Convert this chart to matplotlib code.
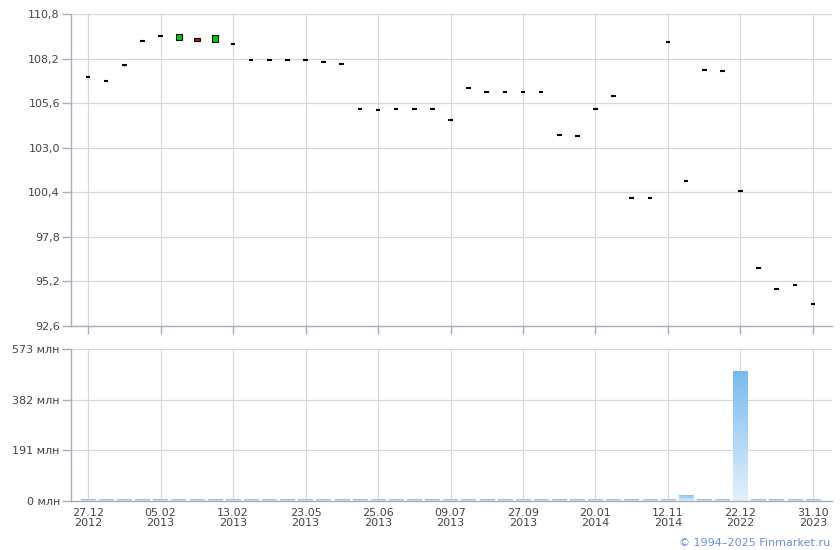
import numpy as np
import matplotlib.pyplot as plt
from matplotlib.colors import LinearSegmentedColormap

# candle data (index-based x axis, 41 trading points)
opens = [107.12, 106.89, 107.82, 109.22, 109.51, 109.26, 109.42, 109.18, 109.05, 108.11,
         108.11, 108.11, 108.11, 108.00, 107.88, 105.25, 105.19, 105.25, 105.25, 105.25,
         104.61, 106.48, 106.24, 106.24, 106.24, 106.24, 103.73, 103.67, 105.25, 106.01,
         100.05, 100.05, 109.16, 101.04, 107.53, 107.47, 100.46, 95.96, 94.73, 94.97, 93.86]
closes = [107.12, 106.89, 107.82, 109.22, 109.51, 109.65, 109.20, 109.59, 109.05, 108.11,
          108.11, 108.11, 108.11, 108.00, 107.88, 105.25, 105.19, 105.25, 105.25, 105.25,
          104.61, 106.48, 106.24, 106.24, 106.24, 106.24, 103.73, 103.67, 105.25, 106.01,
          100.05, 100.05, 109.16, 101.04, 107.53, 107.47, 100.46, 95.96, 94.73, 94.97, 93.86]
lows = list(closes)
lows[2] = 107.74
highs = list(closes)

# volume, mln
volumes = [6, 6, 6, 6, 6, 6, 6, 6, 6, 6,
           6, 6, 6, 6, 6, 6, 6, 6, 6, 6,
           6, 6, 6, 6, 6, 6, 6, 6, 6, 6,
           6, 6, 6, 23, 6, 6, 491, 6, 6, 6, 6]

tick_labels = ['27.12\n2012', '05.02\n2013', '13.02\n2013', '23.05\n2013', '25.06\n2013',
               '09.07\n2013', '27.09\n2013', '20.01\n2014', '12.11\n2014', '22.12\n2022',
               '31.10\n2023']
price_ticks = [92.6, 95.2, 97.8, 100.4, 103.0, 105.6, 108.2, 110.8]
vol_ticks = [0, 191, 382, 573]

grid_c = '#d3d8dd'
spine_c = '#a9adbb'
text_c = '#444444'

fig = plt.figure(figsize=(8.4, 5.5), dpi=100)
ax1 = fig.add_axes([0.0845, 0.4073, 0.906, 0.5673])
ax2 = fig.add_axes([0.0845, 0.0891, 0.906, 0.2764])

x = np.arange(len(closes))
tick_pos = x[::4]

for ax in (ax1, ax2):
    ax.set_axisbelow(True)
    ax.grid(True, color=grid_c, lw=0.9)
    for s in ['top', 'right']:
        ax.spines[s].set_visible(False)
    for s in ['left', 'bottom']:
        ax.spines[s].set_color(spine_c)
        ax.spines[s].set_linewidth(1.0)
    ax.set_xticks(tick_pos)
    ax.tick_params(colors=spine_c, labelcolor=text_c, labelsize=8, length=6.5, width=1, pad=1.5)

# price candles
o = np.array(opens)
c = np.array(closes)
ax1.vlines(x, lows, highs, color='black', lw=1)
body = np.abs(c - o) > 0.01
cols = np.where(c > o, '#00cc00', '#e00000')
ax1.bar(x[body], np.abs(c - o)[body], bottom=np.minimum(o, c)[body], width=0.34,
        color=cols[body], edgecolor='black', linewidth=0.8)
ax1.hlines(c[~body], x[~body] - 0.13, x[~body] + 0.13, color='black', lw=1.5)

ax1.set_xlim(-0.94, 41.05)
ax1.set_ylim(92.6, 110.8)
ax1.set_yticks(price_ticks)
ax1.set_yticklabels([f'{v:.1f}'.replace('.', ',') for v in price_ticks])
ax1.set_xticklabels([])
ax1.tick_params(axis='x', length=6)

# volume bars with vertical gradient
bars = ax2.bar(x, volumes, width=0.8, color='none', edgecolor='none')
cmap = LinearSegmentedColormap.from_list('vol', ['#e4f0fb', '#76baef'])
grad = np.linspace(0, 1, 256).reshape(-1, 1)
for b in bars:
    x0, y0 = b.get_xy()
    w, h = b.get_width(), b.get_height()
    im = ax2.imshow(grad, extent=[x0, x0 + w, y0, y0 + max(h, 0.1)], aspect='auto',
                    cmap=cmap, origin='lower', zorder=2)
    im.set_clip_path(b)

ax2.set_xlim(-0.94, 41.05)
ax2.set_ylim(0, 573)
ax2.set_yticks(vol_ticks)
ax2.set_yticklabels([f'{v} млн' for v in vol_ticks])
ax2.set_xticklabels(tick_labels, linespacing=1.0)
ax2.tick_params(axis='x', length=0, pad=5)

fig.text(0.988, 0.004, '© 1994–2025 Finmarket.ru', ha='right', va='bottom',
         color='#6f8fd8', fontsize=8)

fig.savefig('out.png', dpi=100)
